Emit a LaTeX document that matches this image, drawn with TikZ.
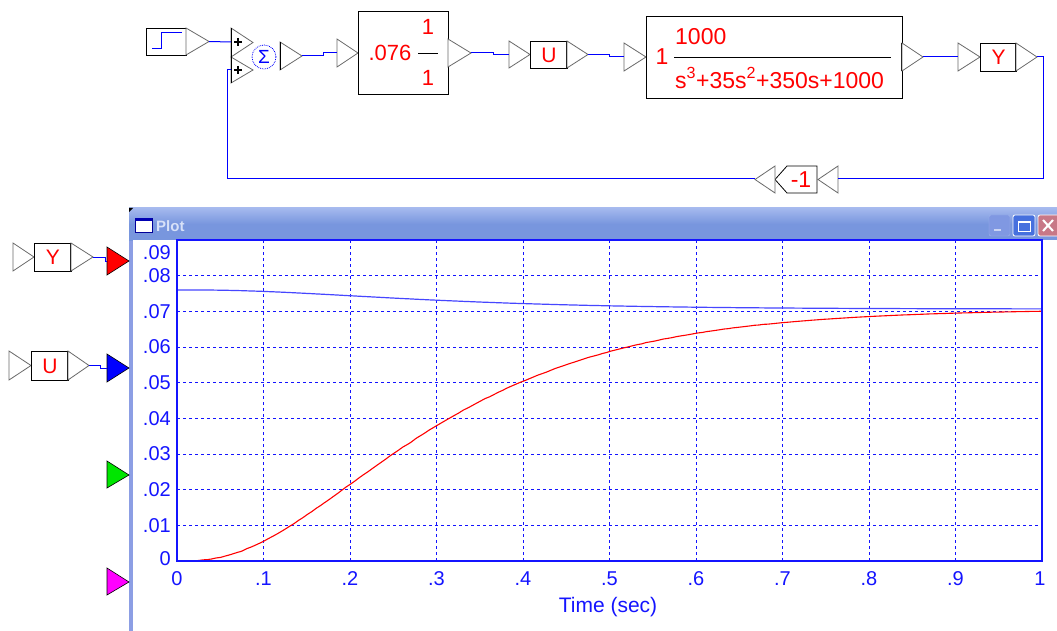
\documentclass[tikz,border=0pt]{standalone}
\usepackage{fontspec}
\setmainfont{Liberation Sans}
\definecolor{wireblue}{RGB}{0,0,255}
\definecolor{portgray}{RGB}{105,105,105}
\definecolor{plotblue}{RGB}{20,20,255}
\definecolor{curveblue}{RGB}{70,70,255}
\definecolor{titleA}{RGB}{165,185,238}
\definecolor{titleB}{RGB}{120,150,222}
\definecolor{winborder}{RGB}{140,158,228}
\definecolor{titletext}{RGB}{215,225,248}
\newcommand\rtri[5][port]{\draw[#1] (#2,#3) -- (#4,{(#3+#5)/2}) -- (#2,#5) -- cycle;}
\begin{document}
\begin{tikzpicture}[x=1pt,y=-1pt,
  wire/.style={draw=wireblue,line width=1pt},
  port/.style={draw=portgray,fill=white,line width=0.8pt},
  blk/.style={draw=black,fill=white,line width=1pt,inner sep=0pt,anchor=north west},
  lbl/.style={text=red,inner sep=0pt,font=\fontsize{21pt}{24pt}\selectfont},
  tflbl/.style={text=red,inner sep=0pt,font=\fontsize{23pt}{26pt}\selectfont},
  gridl/.style={draw=plotblue,line width=0.9pt,dash pattern=on 3pt off 3pt},
  axlbl/.style={text=plotblue,inner sep=0pt,font=\fontsize{20pt}{24pt}\selectfont},
  sigtri/.style={draw=black,line width=0.6pt}]
\useasboundingbox (0,0) rectangle (1057,631);
\fill[white] (0,0) rectangle (1057,631);

% ---------- block diagram ----------
% step source
\node[blk,minimum width=40pt,minimum height=27pt] (step) at (146,28) {};
\draw[wireblue,line width=1pt] (152,49) -- (161,49) -- (161,33) -- (182,33);
\rtri{186}{28}{209}{55}
\coordinate (stepo) at (209,41.5);

% summing junction
\rtri{231}{28}{253}{57}
\rtri{231}{57}{253}{83}
\draw[black,line width=1pt] (231,28) -- (231,83);
\draw[black,line width=1.6pt] (234,42) -- (242,42) (238,38) -- (238,46);
\draw[black,line width=1.6pt] (234,70) -- (242,70) (238,66) -- (238,74);
\coordinate (sumi1) at (231,42);
\coordinate (sumi2) at (231,70);
\node[circle,draw=wireblue,densely dotted,line width=0.8pt,minimum size=24pt,inner sep=0pt,text=wireblue,font=\fontsize{19pt}{19pt}\selectfont] (sum) at (264,57) {Σ};
\rtri{280}{42}{302}{70}
\draw[black,line width=1pt] (280,42) -- (280,70);
\coordinate (sumo) at (302,56);

% gain block
\coordinate (gaini) at (337,53);
\rtri{337}{39}{358}{67}
\node[blk,minimum width=90pt,minimum height=83pt] (gain) at (358,11) {};
\node[lbl,font=\fontsize{22pt}{24pt}\selectfont] (gk) at (390,53) {.076};
\node[lbl,font=\fontsize{22pt}{24pt}\selectfont] (gn) at (428,27) {1};
\node[lbl,font=\fontsize{22pt}{24pt}\selectfont] (gd) at (428,78) {1};
\draw[black,line width=0.8pt] (418,53) -- (438,53);
\rtri{448}{39}{471}{67}
\coordinate (gaino) at (471,53);

% U block
\coordinate (ui) at (509,54.5);
\rtri{509}{41}{530}{68}
\node[blk,minimum width=37pt,minimum height=27pt] (ublk) at (530,41) {};
\node[lbl] at (ublk.center) {U};
\draw[black,line width=1.6pt] (567,41) -- (567,68);
\rtri{567}{41}{588}{68}
\coordinate (uo) at (588,54.5);

% plant transfer function
\coordinate (tfi) at (624,57);
\rtri{624}{43}{646}{71}
\node[blk,minimum width=256pt,minimum height=82pt] (tf) at (646,16) {};
\node[tflbl] at (662,57) {1};
\node[tflbl,anchor=west] at (675,37) {1000};
\node[tflbl,anchor=west] at (675,78) {s\textsuperscript{3}+35s\textsuperscript{2}+350s+1000};
\draw[black,line width=0.8pt] (674,57) -- (891,57);
\draw[black,line width=1.6pt] (902,43) -- (902,71);
\rtri{902}{43}{923}{71}
\coordinate (tfo) at (923,57);

% Y block
\coordinate (yi) at (958,57);
\rtri{958}{43}{980}{71}
\node[blk,minimum width=36pt,minimum height=28pt] (yblk) at (980,43) {};
\node[lbl] at (yblk.center) {Y};
\draw[black,line width=1.6pt] (1016,43) -- (1016,71);
\rtri{1016}{43}{1037}{71}
\coordinate (yo) at (1037,57);

% feedback gain -1
\coordinate (fbi) at (838,179);
\rtri{838}{166}{818}{193}
\draw[black,line width=0.8pt,fill=white] (817,166) -- (787,166) -- (775,179.5) -- (787,193) -- (817,193) -- cycle;
\node[lbl,font=\fontsize{23pt}{24pt}\selectfont] (fbk) at (801,180) {-1};
\rtri{775}{166}{755}{193}
\coordinate (fbo) at (755,179);

% wires
\draw[wire] (stepo) -- (sumi1);
\draw[wire] (sumo) -- ++(21,0) |- (gaini);
\draw[wire] (gaino) -- ++(22,0) |- (ui);
\draw[wire] (uo) -- ++(21,0) |- (tfi);
\draw[wire] (tfo) -- (yi);
\draw[wire] (yo) -- (1043,57) |- (fbi);
\draw[wire] (fbo) -- (227,179) |- (sumi2);

% ---------- plot window ----------
\fill[winborder] (129,208) rectangle (133,631);
\shade[top color=titleA,bottom color=titleB,middle color=titleB] (129,208) rectangle (1057,240);
\fill[black] (129,208) -- (133,208) -- (129,212) -- cycle;
\fill[white] (133,240) rectangle (1057,631);
% title icon and text
\draw[fill=white,draw=blue!60!black,line width=0.8pt] (135,218) rectangle (152,232);
\fill[blue!70!black] (135,218) rectangle (152,221);
\node[anchor=west,inner sep=0pt,text=titletext,font=\bfseries\fontsize{15pt}{16pt}\selectfont] (title) at (156,226) {Plot};
% title buttons
\draw[rounded corners=2pt,fill={rgb,255:red,128;green,152;blue,226},draw={rgb,255:red,160;green,180;blue,236}] (989,215) rectangle (1010,236);
\fill[white,opacity=0.6] (994,229) rectangle (1001,231);
\draw[rounded corners=2pt,fill={rgb,255:red,70;green,112;blue,222},draw=white,line width=0.8pt] (1013,215) rectangle (1035,236);
\draw[white,line width=1pt] (1018,221) rectangle (1030,231);
\draw[white,line width=2pt] (1018,221.5) -- (1030,221.5);
\draw[rounded corners=2pt,fill={rgb,255:red,200;green,120;blue,135},draw=white,line width=0.8pt] (1038,215) rectangle (1062,236);
\draw[white,line width=2pt] (1043,220) -- (1053,231) (1053,220) -- (1043,231);

% grid
\foreach \k in {1,...,9} \draw[gridl] ({177+86.5*\k},240) -- ({177+86.5*\k},561);
\foreach \k in {1,...,8} \draw[gridl] (177,{561-35.67*\k}) -- (1042,{561-35.67*\k});
% curves
\draw[curveblue,line width=1.2pt] plot[domain=0:1,samples=200,smooth] ({177+865*\x},{561-271.09*(1-0.070632*(1-12.3647*exp(-6.7972*\x)+11.6668*exp(-7.7336*\x)-0.3019*exp(-20.4693*\x)))});
\draw[red,line width=1.1pt] plot[domain=0:1,samples=200,smooth] ({177+865*\x},{561-251.94*(1-12.3647*exp(-6.7972*\x)+11.6668*exp(-7.7336*\x)-0.3019*exp(-20.4693*\x))});
% frame
\draw[plotblue,line width=1.5pt] (177,240) rectangle (1042,561);
% y labels
\node[axlbl,anchor=east] at (171,253) {.09};
\foreach \k/\t in {8/.08,7/.07,6/.06,5/.05,4/.04,3/.03,2/.02,1/.01}
  \node[axlbl,anchor=east] at (171,{561-35.67*\k}) {\t};
\node[axlbl,anchor=east] at (171,559) {0};
% x labels
\node[axlbl] at (177,579) {0};
\foreach \k/\t in {1/.1,2/.2,3/.3,4/.4,5/.5,6/.6,7/.7,8/.8,9/.9}
  \node[axlbl] at ({177+86.5*\k},579) {\t};
\node[axlbl] at (1040,579) {1};
\node[axlbl,font=\fontsize{21pt}{24pt}\selectfont] at (608,607) {Time (sec)};

% ---------- scope input ports ----------
% Y
\rtri{13}{243}{34}{271}
\node[blk,minimum width=37pt,minimum height=28pt] (ypb) at (34,243) {};
\node[lbl] at (ypb.center) {Y};
\draw[black,line width=1.6pt] (71,243) -- (71,271);
\rtri{71}{243}{93}{271}
\coordinate (ypo) at (93,257);
\coordinate (ch1) at (107,261);
\draw[sigtri,fill=red] (107,247) -- (129,261) -- (107,275) -- cycle;
\draw[wire,line width=0.8pt] (ypo) -- (105,257) |- (ch1);
% U
\rtri{9}{351}{31}{380}
\node[blk,minimum width=37pt,minimum height=29pt] (upb) at (31,351) {};
\node[lbl] at (upb.center) {U};
\draw[black,line width=1.6pt] (68,351) -- (68,380);
\rtri{68}{351}{89}{380}
\coordinate (upo) at (89,365.5);
\coordinate (ch2) at (107,368);
\draw[sigtri,fill=blue] (107,354) -- (129,368) -- (107,382) -- cycle;
\draw[wire,line width=0.8pt] (upo) -- (100,365.5) |- (ch2);
% unused channels
\draw[sigtri,fill={rgb,255:red,0;green,230;blue,0}] (107,461) -- (129,475) -- (107,488) -- cycle;
\draw[sigtri,fill={rgb,255:red,255;green,0;blue,255}] (107,568) -- (129,582) -- (107,595) -- cycle;
\end{tikzpicture}
\end{document}
